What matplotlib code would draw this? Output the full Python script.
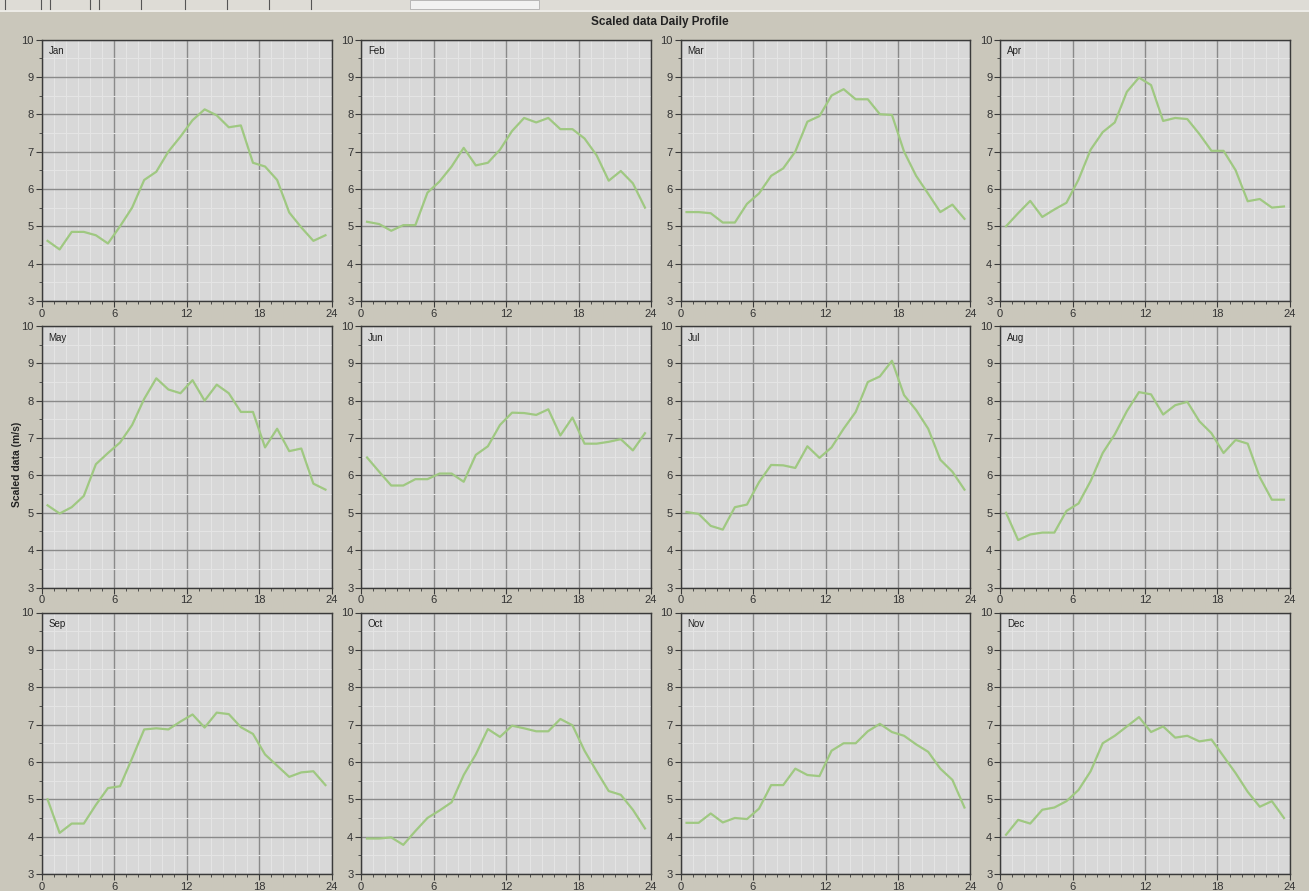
import matplotlib
matplotlib.use("Agg")
import matplotlib.pyplot as plt
from matplotlib.ticker import MultipleLocator
from matplotlib.patches import Rectangle
from matplotlib.lines import Line2D

plt.rcParams['font.family'] = ['Liberation Sans', 'DejaVu Sans']

# Hour-of-day positions (bin centres)
hours = [0.5, 1.5, 2.5, 3.5, 4.5, 5.5, 6.5, 7.5, 8.5, 9.5, 10.5, 11.5,
         12.5, 13.5, 14.5, 15.5, 16.5, 17.5, 18.5, 19.5, 20.5, 21.5, 22.5, 23.5]

months = ["Jan", "Feb", "Mar", "Apr", "May", "Jun",
          "Jul", "Aug", "Sep", "Oct", "Nov", "Dec"]

# Mean scaled data (m/s) per hour for each month
jan = [4.61, 4.38, 4.85, 4.85, 4.76, 4.54, 5.00, 5.50, 6.24, 6.46, 7.00, 7.40,
       7.84, 8.13, 7.97, 7.65, 7.70, 6.70, 6.60, 6.24, 5.37, 4.97, 4.61, 4.76]
feb = [5.12, 5.06, 4.88, 5.03, 5.03, 5.90, 6.20, 6.60, 7.10, 6.63, 6.70, 7.05,
       7.55, 7.90, 7.78, 7.90, 7.60, 7.60, 7.35, 6.90, 6.22, 6.48, 6.15, 5.50]
mar = [5.38, 5.38, 5.35, 5.10, 5.10, 5.60, 5.88, 6.35, 6.55, 7.00, 7.80, 7.95,
       8.50, 8.67, 8.40, 8.40, 8.00, 7.98, 7.00, 6.35, 5.87, 5.38, 5.58, 5.20]
apr = [5.00, 5.35, 5.68, 5.25, 5.45, 5.63, 6.25, 7.05, 7.52, 7.78, 8.60, 8.98,
       8.78, 7.82, 7.90, 7.87, 7.47, 7.02, 7.02, 6.50, 5.67, 5.73, 5.50, 5.53]
may = [5.20, 4.98, 5.15, 5.45, 6.30, 6.60, 6.88, 7.35, 8.05, 8.60, 8.30, 8.20,
       8.55, 8.00, 8.43, 8.20, 7.70, 7.70, 6.75, 7.25, 6.65, 6.72, 5.78, 5.62]
jun = [6.48, 6.10, 5.73, 5.73, 5.90, 5.90, 6.05, 6.05, 5.83, 6.55, 6.78, 7.35,
       7.68, 7.67, 7.62, 7.77, 7.07, 7.55, 6.85, 6.85, 6.90, 6.97, 6.67, 7.13]
jul = [5.02, 4.97, 4.65, 4.55, 5.15, 5.22, 5.82, 6.28, 6.27, 6.20, 6.78, 6.47,
       6.75, 7.25, 7.70, 8.50, 8.65, 9.07, 8.15, 7.75, 7.25, 6.42, 6.10, 5.62]
aug = [5.00, 4.27, 4.42, 4.47, 4.47, 5.05, 5.25, 5.85, 6.60, 7.10, 7.72, 8.23,
       8.17, 7.63, 7.88, 7.97, 7.45, 7.13, 6.60, 6.95, 6.85, 5.95, 5.35, 5.35]
sep = [5.00, 4.10, 4.35, 4.35, 4.85, 5.30, 5.35, 6.10, 6.87, 6.90, 6.87, 7.08,
       7.27, 6.92, 7.32, 7.28, 6.93, 6.75, 6.20, 5.90, 5.60, 5.72, 5.75, 5.38]
oct_ = [3.95, 3.95, 3.98, 3.78, 4.15, 4.50, 4.70, 4.92, 5.65, 6.20, 6.88, 6.67,
        6.97, 6.90, 6.82, 6.82, 7.15, 6.98, 6.30, 5.75, 5.22, 5.12, 4.72, 4.22]
nov = [4.37, 4.37, 4.62, 4.38, 4.50, 4.47, 4.75, 5.38, 5.38, 5.82, 5.65, 5.62,
       6.30, 6.50, 6.50, 6.82, 7.02, 6.80, 6.70, 6.47, 6.27, 5.82, 5.52, 4.78]
dec = [4.05, 4.45, 4.35, 4.72, 4.78, 4.95, 5.25, 5.75, 6.50, 6.70, 6.95, 7.20,
       6.80, 6.95, 6.65, 6.70, 6.55, 6.60, 6.15, 5.70, 5.20, 4.80, 4.95, 4.50]

series = [jan, feb, mar, apr, may, jun, jul, aug, sep, oct_, nov, dec]

x_ticks = [0, 6, 12, 18, 24]
y_ticks = [3, 4, 5, 6, 7, 8, 9, 10]

W, H = 1309, 891
fig = plt.figure(figsize=(W / 100, H / 100), dpi=100)
fig.patch.set_facecolor('#cac7bb')

# window strip along the top edge
fig.add_artist(Rectangle((0, 1 - 10 / H), 1, 10 / H, transform=fig.transFigure,
                         facecolor='#dedcd6', edgecolor='none'))
fig.add_artist(Line2D([0, 1], [1 - 11 / H, 1 - 11 / H], transform=fig.transFigure,
                      color='#f4f3ef', lw=1.2))
fig.add_artist(Rectangle((410 / W, 1 - 9 / H), 129 / W, 9 / H, transform=fig.transFigure,
                         facecolor='#f2f2f2', edgecolor='#b0b0b0', lw=0.6))
for sx in [5, 41, 50, 90, 99, 141, 185, 227, 269, 311]:
    fig.add_artist(Line2D([sx / W, sx / W], [1 - 9 / H, 1], transform=fig.transFigure,
                          color='#555555', lw=0.8))

fig.text(660 / W, 1 - 22 / H, "Scaled data Daily Profile", ha='center', va='center',
         fontsize=8.5, fontweight='bold', color='#222222')
fig.text(17 / W, 1 - 464 / H, "Scaled data (m/s)", ha='center', va='center',
         rotation=90, fontsize=7.5, fontweight='bold', color='#222222')

col_left = [41.5, 361, 680.5, 1000]
row_top = [39.5, 326, 612.5]
ax_w, ax_h = 290, 261.5

for i, (name, vals) in enumerate(zip(months, series)):
    r, c = divmod(i, 4)
    left = col_left[c] / W
    bottom = 1 - (row_top[r] + ax_h) / H
    ax = fig.add_axes([left, bottom, ax_w / W, ax_h / H])
    ax.set_facecolor('#d8d8d8')
    ax.set_xlim(0, 24)
    ax.set_ylim(3, 10)
    ax.set_xticks(x_ticks)
    ax.set_yticks(y_ticks)
    ax.xaxis.set_minor_locator(MultipleLocator(1))
    ax.yaxis.set_minor_locator(MultipleLocator(0.5))
    ax.grid(which='minor', color='#e4e4e4', lw=0.8)
    ax.grid(which='major', color='#8a8a8a', lw=1.0)
    ax.set_axisbelow(True)
    ax.plot(hours, vals, color='#9fc881', lw=1.6, solid_joinstyle='round', zorder=3)
    for s in ax.spines.values():
        s.set_color('#3a3a3a')
        s.set_linewidth(1.0)
    ax.tick_params(which='major', direction='out', length=4, width=0.8,
                   color='#3a3a3a', labelsize=8, labelcolor='#333333', pad=1.5)
    ax.tick_params(which='minor', direction='out', length=2, width=0.6,
                   color='#3a3a3a')
    ax.text(0.024, 0.975, name, transform=ax.transAxes, ha='left', va='top',
            fontsize=7, color='#222222')

fig.savefig("out.png", dpi=100, facecolor=fig.get_facecolor())
